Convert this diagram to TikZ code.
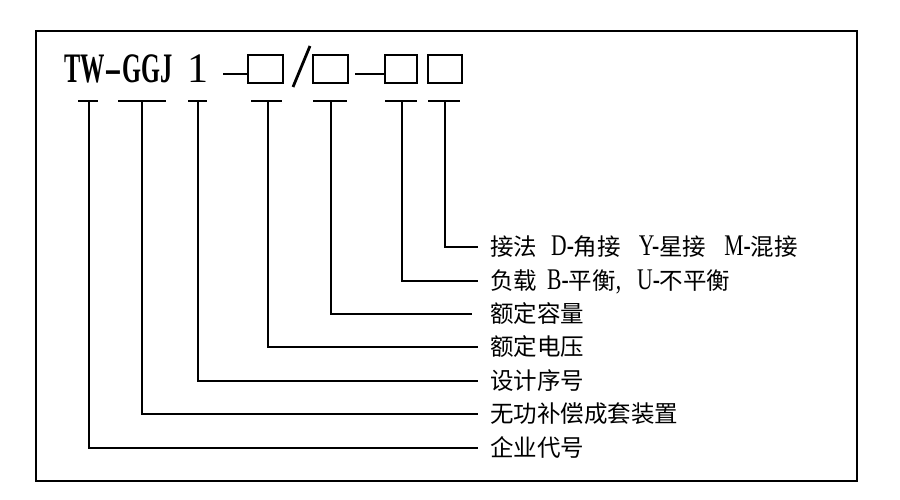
\documentclass[tikz,border=0pt]{standalone}
\usepackage{fontspec}
\setmainfont{Liberation Serif}
\newfontfamily\cjk{Noto Sans CJK SC}
\newcommand\latn[1]{\scalebox{0.72}[1]{\fontsize{30}{30}\selectfont\rmfamily #1}}
\tikzset{
  frame/.style={line width=1.6pt},
  conn/.style={line width=1.3pt},
  sym/.style={line width=1.4pt},
  lab/.style={anchor=west, inner sep=0pt, font=\cjk\fontsize{23.5}{24}\selectfont,
              text height=20.2pt, text depth=2.35pt},
  ttl/.style={anchor=base west, inner sep=0pt}
}
\begin{document}
\begin{tikzpicture}[x=1pt,y=-1pt]
\useasboundingbox[fill=white] (0,0) rectangle (900,500);
\draw[frame] (36,31) rectangle (857,481);

% title
\node[ttl] (tw) at (64,83) {\scalebox{0.58}[1]{\fontsize{42}{42}\selectfont\bfseries TW\scalebox{2.2}[1]{-}GGJ}};
\node[ttl] (one) at (187,83) {\fontsize{42}{42}\selectfont 1};
\draw[sym] (223,74) -- (248,74);
\draw[sym] (248,55) rectangle (283,83);
\draw[line width=2.8pt] (293,87) -- (310,46);
\draw[sym] (313,55) rectangle (348,83);
\draw[sym] (355,74) -- (385,74);
\draw[sym] (385,55) rectangle (417,83);
\draw[sym] (428,55) rectangle (462,83);

% labels
\node[lab] (l1) at (490,247) {接法\hspace{14pt}\latn{D-}角接\hspace{18pt}\latn{Y-}星接\hspace{18pt}\latn{M-}混接};
\node[lab] (l2) at (490,281) {负载\hspace{10pt}\latn{B-}平衡\latn{,}\hspace{16pt}\latn{U-}不平衡};
\node[lab] (l3) at (490,314) {额定容量};
\node[lab] (l4) at (490,347) {额定电压};
\node[lab] (l5) at (490,381) {设计序号};
\node[lab] (l6) at (490,414) {无功补偿成套装置};
\node[lab] (l7) at (490,448) {企业代号};

% T marks
\coordinate (t1) at (89,101);
\coordinate (t2) at (142,101);
\coordinate (t3) at (198,101);
\coordinate (t4) at (268,101);
\coordinate (t5) at (331,101);
\coordinate (t6) at (402,101);
\coordinate (t7) at (445,101);
\draw[conn] (78,101) -- (98,101);
\draw[conn] (118,101) -- (166,101);
\draw[conn] (188,101) -- (207,101);
\draw[conn] (251,101) -- (282,101);
\draw[conn] (313,101) -- (347,101);
\draw[conn] (385,101) -- (417,101);
\draw[conn] (428,101) -- (460,101);

% connectors
\draw[conn] (t7) -- (t7 |- l1.west) -- ([xshift=-12pt]l1.west);
\draw[conn] (t6) -- (t6 |- l2.west) -- ([xshift=-12pt]l2.west);
\draw[conn] (t5) -- (t5 |- l3.west) -- ([xshift=-18pt]l3.west);
\draw[conn] (t4) -- (t4 |- l4.west) -- ([xshift=-12pt]l4.west);
\draw[conn] (t3) -- (t3 |- l5.west) -- ([xshift=-12pt]l5.west);
\draw[conn] (t2) -- (t2 |- l6.west) -- ([xshift=-12pt]l6.west);
\draw[conn] (t1) -- (t1 |- l7.west) -- ([xshift=-12pt]l7.west);
\end{tikzpicture}
\end{document}
